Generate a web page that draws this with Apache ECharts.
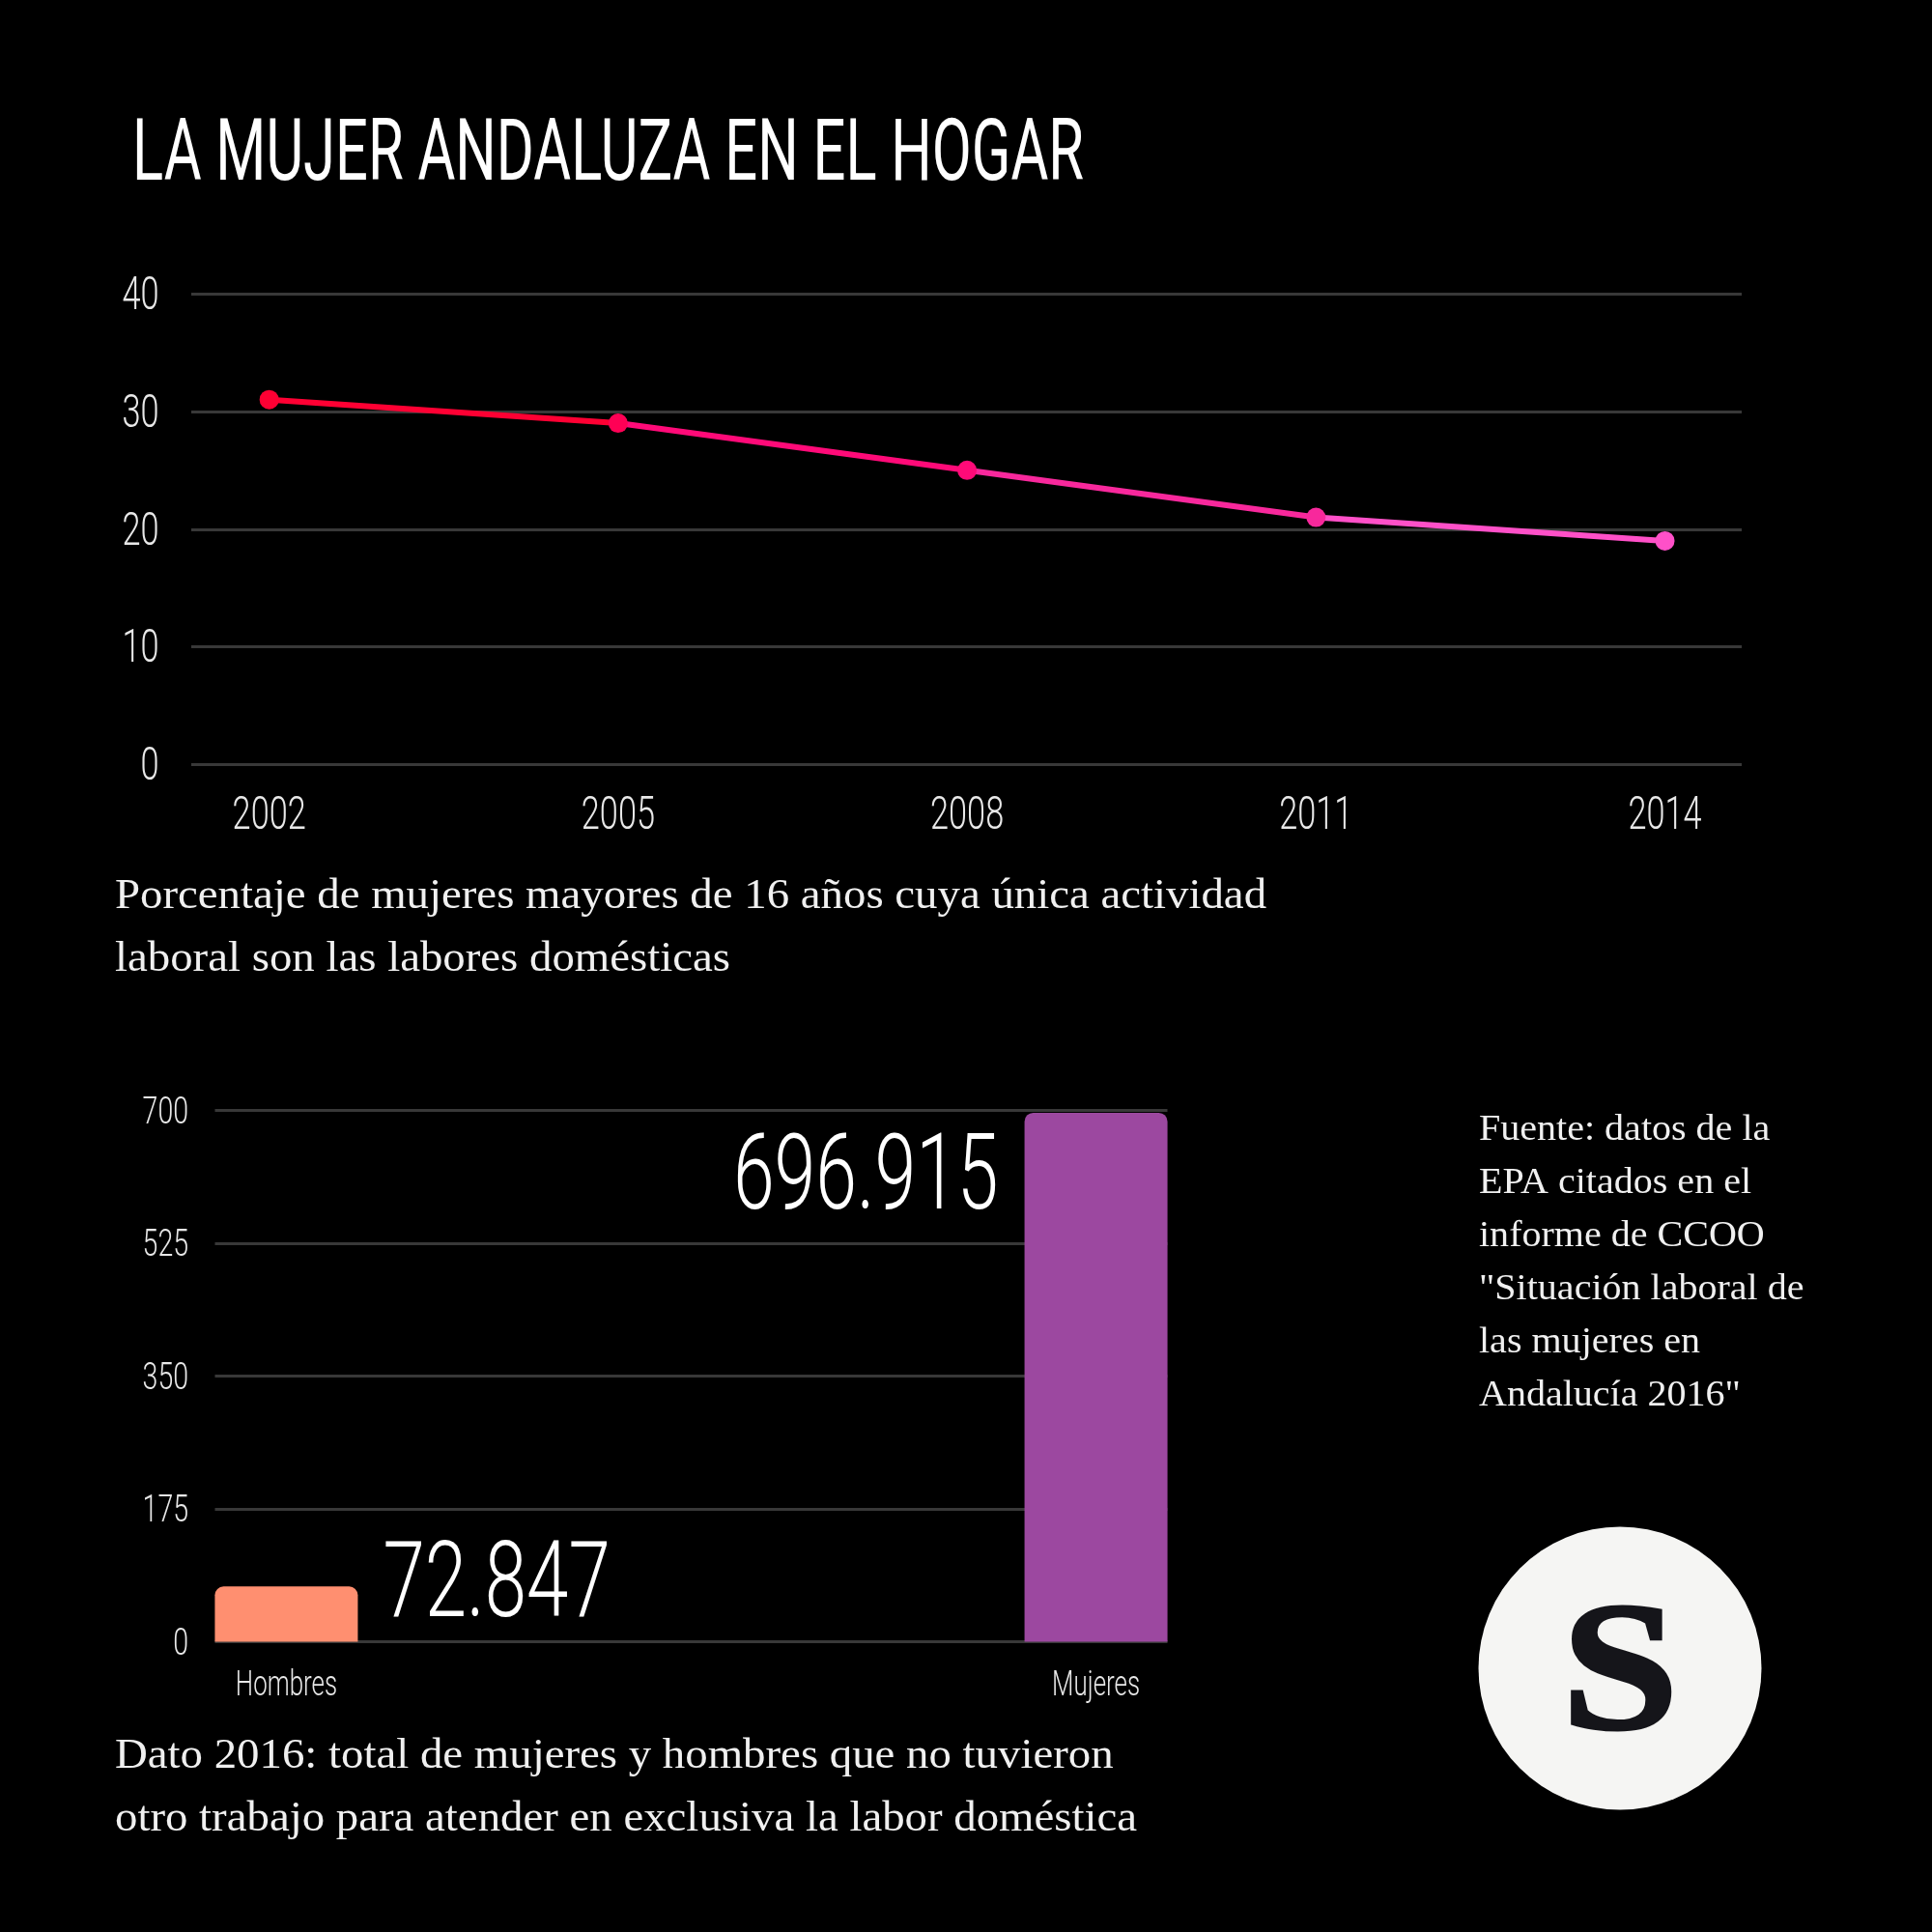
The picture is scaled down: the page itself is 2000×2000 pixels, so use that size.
<!DOCTYPE html>
<html>
<head>
<meta charset="utf-8">
<script src="https://cdn.jsdelivr.net/npm/echarts@6/dist/echarts.min.js"></script>
<style>
  body { margin: 0; background: #000; }
  #main { width: 2000px; height: 2000px; }
</style>
</head>
<body>
<div id="main"></div>
<script>
var years = [2002, 2005, 2008, 2011, 2014];
var shares = [31, 29, 25, 21, 19];
var shareTicks = [0, 10, 20, 30, 40];
var shareColors = ['#ff0033', '#ff0055', '#ff0a78', '#f8289c', '#ff50c8'];
var groups = ['Hombres', 'Mujeres'];
var groupTicks = [0, 1];
var totals = [72.847, 696.915];
var totalTicks = [0, 175, 350, 525, 700];
var totalColors = ['#ff8f70', '#9c48a0'];
var narrow = 'Roboto';
var serif = '"Liberation Serif"';

var myChart = echarts.init(document.getElementById('main'), null, { width: 2000, height: 2000 });

myChart.setOption({
  backgroundColor: '#000',
  animation: false,
  grid: [
    { left: 198, right: 197, top: 304, height: 487.5 },
    { left: 222.5, width: 986, top: 1149.5, height: 550 }
  ],
  xAxis: [
    {
      type: 'value', gridIndex: 0, min: 2001.33, max: 2014.66,
      splitLine: { show: false }, axisLine: { show: false }, axisTick: { show: false }, axisLabel: { show: false }
    },
    {
      type: 'value', gridIndex: 1, min: -0.0882, max: 1.0882,
      splitLine: { show: false }, axisLine: { show: false }, axisTick: { show: false }, axisLabel: { show: false }
    }
  ],
  yAxis: [
    {
      type: 'value', gridIndex: 0, min: 0, max: 40, interval: 10,
      splitLine: { lineStyle: { color: '#383838', width: 3 } },
      axisLine: { show: false }, axisTick: { show: false }, axisLabel: { show: false }
    },
    {
      type: 'value', gridIndex: 1, min: 0, max: 700, interval: 175,
      splitLine: { lineStyle: { color: '#383838', width: 3 } },
      axisLine: { show: false }, axisTick: { show: false }, axisLabel: { show: false }
    }
  ],
  visualMap: {
    show: false, type: 'piecewise', dimension: 0, seriesIndex: 0,
    pieces: [
      { lte: 2005, color: shareColors[0] },
      { gt: 2005, lte: 2008, color: shareColors[2] },
      { gt: 2008, lte: 2011, color: shareColors[3] },
      { gt: 2011, color: shareColors[4] }
    ]
  },
  series: [
    {
      type: 'line', xAxisIndex: 0, yAxisIndex: 0,
      symbol: 'circle', symbolSize: 20, lineStyle: { width: 6 },
      data: years.map(function (y, i) {
        return { value: [y, shares[i]], itemStyle: { color: shareColors[i] } };
      })
    },
    {
      type: 'bar', xAxisIndex: 1, yAxisIndex: 1, barWidth: 148,
      data: totals.map(function (v, i) {
        return {
          value: [groupTicks[i], v],
          itemStyle: { color: totalColors[i], borderRadius: [9, 9, 0, 0] }
        };
      })
    }
  ]
});

// no condensed font is installed, so these texts are squeezed with scaleX
function condensed(text, x, y, font, scaleX, fill, align) {
  return {
    type: 'text', x: x, y: y, scaleX: scaleX,
    style: { text: text, fill: fill, font: font + ' ' + narrow, textAlign: align, textVerticalAlign: 'middle' }
  };
}

function note(x, y, text, size, lineHeight, scaleX) {
  return {
    type: 'text', x: x, y: y, scaleX: scaleX,
    style: { text: text, fill: '#f0f0f0', font: size + 'px ' + serif, lineHeight: lineHeight }
  };
}

function upper(point) { return myChart.convertToPixel({ xAxisIndex: 0, yAxisIndex: 0 }, point); }
function lower(point) { return myChart.convertToPixel({ xAxisIndex: 1, yAxisIndex: 1 }, point); }

var texts = [
  condensed('LA MUJER ANDALUZA EN EL HOGAR', 137, 164, '400 89px', 0.67, '#fff', 'left')
];
shareTicks.forEach(function (t) {
  texts.push(condensed(String(t), 164.5, upper([2002, t])[1] + 3.5, '300 49px', 0.7, '#e8e8e8', 'right'));
});
years.forEach(function (y) {
  texts.push(condensed(String(y), upper([y, 0])[0], 846, '300 49px', 0.7, '#e8e8e8', 'center'));
});
totalTicks.forEach(function (t) {
  texts.push(condensed(String(t), 195, lower([0, t])[1] + 3.5, '300 38px', 0.75, '#e8e8e8', 'right'));
});
groupTicks.forEach(function (g) {
  texts.push(condensed(groups[g], lower([g, 0])[0], 1746, '300 36px', 0.72, '#e8e8e8', 'center'));
});
var hombres = lower([groupTicks[0], totals[0]]);
var mujeres = lower([groupTicks[1], totals[1]]);
texts.push(condensed(totals[0].toFixed(3), hombres[0] + 100, hombres[1] + 3, '300 110px', 0.71, '#fff', 'left'));
texts.push(condensed(totals[1].toFixed(3), mujeres[0] - 101, mujeres[1] + 72, '300 110px', 0.7, '#fff', 'right'));

texts.push(
  note(119, 895.5, 'Porcentaje de mujeres mayores de 16 años cuya única actividad\nlaboral son las labores domésticas', 44, 65, 1.064),
  note(119, 1785.5, 'Dato 2016: total de mujeres y hombres que no tuvieron\notro trabajo para atender en exclusiva la labor doméstica', 44, 65, 1.064),
  note(1531, 1142.5, 'Fuente: datos de la\nEPA citados en el\ninforme de CCOO\n"Situación laboral de\nlas mujeres en\nAndalucía 2016"', 37, 55, 1.082),
  { type: 'circle', shape: { cx: 1677, cy: 1727, r: 146.5 }, style: { fill: '#f5f5f3' } },
  {
    type: 'text', x: 1677, y: 1740, scaleX: 1.15,
    style: {
      text: 'S', fill: '#15151a', stroke: '#15151a', lineWidth: 3,
      font: 'bold 190px ' + serif, textAlign: 'center', textVerticalAlign: 'middle'
    }
  }
);

myChart.setOption({ graphic: texts });
</script>
</body>
</html>
